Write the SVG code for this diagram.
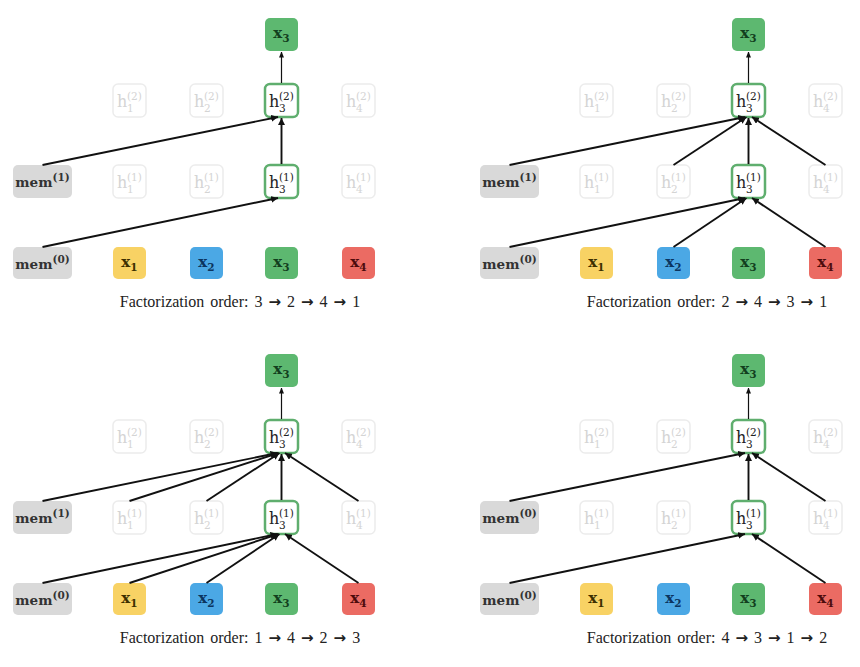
<svg xmlns="http://www.w3.org/2000/svg" width="860" height="667" viewBox="0 0 860 667">
<defs>
<marker id="ah" markerUnits="userSpaceOnUse" markerWidth="8" markerHeight="7" refX="7" refY="3.5" orient="auto"><path d="M0,0 L7,3.5 L0,7 z" fill="#111"/></marker>
<marker id="ahs" markerUnits="userSpaceOnUse" markerWidth="6" markerHeight="5" refX="5.5" refY="2.5" orient="auto"><path d="M0,0 L6,2.5 L0,5 z" fill="#111"/></marker>
</defs>
<style>
.fade{fill:#fff;stroke:#ececec;stroke-width:1.5}
.act{fill:#fff;stroke:#5fae6e;stroke-width:2.5}
.mem{fill:#d9d9d9}
.g{fill:#5db870}.y{fill:#f8d264}.b{fill:#4ba8e5}.r{fill:#eb6b63}
text{font-family:"DejaVu Serif","Liberation Serif",serif}
.ft{fill:#d4d4d4}
.at{fill:#222}
.hl{font-size:16px}
.sm{font-size:10.5px}
.ml{font-size:13.5px;font-weight:bold;fill:#333}
.xl{font-size:15px;font-weight:bold}
.tg{fill:#123f1e}.ty{fill:#3d3000}.tb{fill:#0b3560}.tr{fill:#4d0c0c}
.cap{font-family:"Liberation Serif","DejaVu Serif",serif;font-size:16px;fill:#222;word-spacing:2px}
.ar{font-family:"DejaVu Sans",sans-serif;font-weight:bold;font-size:15px}
.e{stroke:#111;stroke-width:1.9;fill:none;marker-end:url(#ah)}
.et{stroke:#111;stroke-width:1.2;fill:none;marker-end:url(#ahs)}
</style>
<rect width="860" height="667" fill="#fff"/>

<!-- ================= Panel A ================= -->
<g id="panelA">
<g id="A_out"><rect class="g" x="265" y="18" width="33" height="33" rx="5"/><text class="xl tg" x="281.5" y="38" text-anchor="middle">x<tspan class="sm" dy="4">3</tspan></text></g>
<g id="A_h1_2"><rect class="fade" x="113" y="84" width="33" height="33" rx="5"/><text class="hl ft" x="117" y="107">h</text><text class="sm ft" x="127" y="100">(2)</text><text class="sm ft" x="127" y="112">1</text></g>
<g id="A_h2_2"><rect class="fade" x="190" y="84" width="33" height="33" rx="5"/><text class="hl ft" x="194" y="107">h</text><text class="sm ft" x="204" y="100">(2)</text><text class="sm ft" x="204" y="112">2</text></g>
<g id="A_h3_2"><rect class="act" x="265" y="84" width="33" height="33" rx="5"/><text class="hl at" x="269" y="107">h</text><text class="sm at" x="279" y="100">(2)</text><text class="sm at" x="279" y="112">3</text></g>
<g id="A_h4_2"><rect class="fade" x="342" y="84" width="33" height="33" rx="5"/><text class="hl ft" x="346" y="107">h</text><text class="sm ft" x="356" y="100">(2)</text><text class="sm ft" x="356" y="112">4</text></g>
<g id="A_mem1"><rect class="mem" x="13" y="165" width="59" height="33" rx="5"/><text class="ml" x="42.5" y="187" text-anchor="middle">mem<tspan class="sm" dy="-6">(1)</tspan></text></g>
<g id="A_h1_1"><rect class="fade" x="113" y="165" width="33" height="33" rx="5"/><text class="hl ft" x="117" y="188">h</text><text class="sm ft" x="127" y="181">(1)</text><text class="sm ft" x="127" y="193">1</text></g>
<g id="A_h2_1"><rect class="fade" x="190" y="165" width="33" height="33" rx="5"/><text class="hl ft" x="194" y="188">h</text><text class="sm ft" x="204" y="181">(1)</text><text class="sm ft" x="204" y="193">2</text></g>
<g id="A_h3_1"><rect class="act" x="265" y="165" width="33" height="33" rx="5"/><text class="hl at" x="269" y="188">h</text><text class="sm at" x="279" y="181">(1)</text><text class="sm at" x="279" y="193">3</text></g>
<g id="A_h4_1"><rect class="fade" x="342" y="165" width="33" height="33" rx="5"/><text class="hl ft" x="346" y="188">h</text><text class="sm ft" x="356" y="181">(1)</text><text class="sm ft" x="356" y="193">4</text></g>
<g id="A_mem0"><rect class="mem" x="13" y="247" width="59" height="32" rx="5"/><text class="ml" x="42.5" y="269" text-anchor="middle">mem<tspan class="sm" dy="-6">(0)</tspan></text></g>
<g id="A_x1"><rect class="y" x="113" y="247" width="33" height="32" rx="5"/><text class="xl ty" x="129.5" y="267" text-anchor="middle">x<tspan class="sm" dy="4">1</tspan></text></g>
<g id="A_x2"><rect class="b" x="190" y="247" width="33" height="32" rx="5"/><text class="xl tb" x="206.5" y="267" text-anchor="middle">x<tspan class="sm" dy="4">2</tspan></text></g>
<g id="A_x3"><rect class="g" x="265" y="247" width="33" height="32" rx="5"/><text class="xl tg" x="281.5" y="267" text-anchor="middle">x<tspan class="sm" dy="4">3</tspan></text></g>
<g id="A_x4"><rect class="r" x="342" y="247" width="33" height="32" rx="5"/><text class="xl tr" x="358.5" y="267" text-anchor="middle">x<tspan class="sm" dy="4">4</tspan></text></g>
<text class="cap" x="240" y="307" text-anchor="middle">Factorization order: 3 <tspan class="ar">→</tspan> 2 <tspan class="ar">→</tspan> 4 <tspan class="ar">→</tspan> 1</text>
</g>

<!-- ================= Panel B ================= -->
<g id="panelB" transform="translate(467,0)">
<g id="B_out"><rect class="g" x="265" y="18" width="33" height="33" rx="5"/><text class="xl tg" x="281.5" y="38" text-anchor="middle">x<tspan class="sm" dy="4">3</tspan></text></g>
<g id="B_h1_2"><rect class="fade" x="113" y="84" width="33" height="33" rx="5"/><text class="hl ft" x="117" y="107">h</text><text class="sm ft" x="127" y="100">(2)</text><text class="sm ft" x="127" y="112">1</text></g>
<g id="B_h2_2"><rect class="fade" x="190" y="84" width="33" height="33" rx="5"/><text class="hl ft" x="194" y="107">h</text><text class="sm ft" x="204" y="100">(2)</text><text class="sm ft" x="204" y="112">2</text></g>
<g id="B_h3_2"><rect class="act" x="265" y="84" width="33" height="33" rx="5"/><text class="hl at" x="269" y="107">h</text><text class="sm at" x="279" y="100">(2)</text><text class="sm at" x="279" y="112">3</text></g>
<g id="B_h4_2"><rect class="fade" x="342" y="84" width="33" height="33" rx="5"/><text class="hl ft" x="346" y="107">h</text><text class="sm ft" x="356" y="100">(2)</text><text class="sm ft" x="356" y="112">4</text></g>
<g id="B_mem1"><rect class="mem" x="13" y="165" width="59" height="33" rx="5"/><text class="ml" x="42.5" y="187" text-anchor="middle">mem<tspan class="sm" dy="-6">(1)</tspan></text></g>
<g id="B_h1_1"><rect class="fade" x="113" y="165" width="33" height="33" rx="5"/><text class="hl ft" x="117" y="188">h</text><text class="sm ft" x="127" y="181">(1)</text><text class="sm ft" x="127" y="193">1</text></g>
<g id="B_h2_1"><rect class="fade" x="190" y="165" width="33" height="33" rx="5"/><text class="hl ft" x="194" y="188">h</text><text class="sm ft" x="204" y="181">(1)</text><text class="sm ft" x="204" y="193">2</text></g>
<g id="B_h3_1"><rect class="act" x="265" y="165" width="33" height="33" rx="5"/><text class="hl at" x="269" y="188">h</text><text class="sm at" x="279" y="181">(1)</text><text class="sm at" x="279" y="193">3</text></g>
<g id="B_h4_1"><rect class="fade" x="342" y="165" width="33" height="33" rx="5"/><text class="hl ft" x="346" y="188">h</text><text class="sm ft" x="356" y="181">(1)</text><text class="sm ft" x="356" y="193">4</text></g>
<g id="B_mem0"><rect class="mem" x="13" y="247" width="59" height="32" rx="5"/><text class="ml" x="42.5" y="269" text-anchor="middle">mem<tspan class="sm" dy="-6">(0)</tspan></text></g>
<g id="B_x1"><rect class="y" x="113" y="247" width="33" height="32" rx="5"/><text class="xl ty" x="129.5" y="267" text-anchor="middle">x<tspan class="sm" dy="4">1</tspan></text></g>
<g id="B_x2"><rect class="b" x="190" y="247" width="33" height="32" rx="5"/><text class="xl tb" x="206.5" y="267" text-anchor="middle">x<tspan class="sm" dy="4">2</tspan></text></g>
<g id="B_x3"><rect class="g" x="265" y="247" width="33" height="32" rx="5"/><text class="xl tg" x="281.5" y="267" text-anchor="middle">x<tspan class="sm" dy="4">3</tspan></text></g>
<g id="B_x4"><rect class="r" x="342" y="247" width="33" height="32" rx="5"/><text class="xl tr" x="358.5" y="267" text-anchor="middle">x<tspan class="sm" dy="4">4</tspan></text></g>
<text class="cap" x="240" y="307" text-anchor="middle">Factorization order: 2 <tspan class="ar">→</tspan> 4 <tspan class="ar">→</tspan> 3 <tspan class="ar">→</tspan> 1</text>
</g>

<!-- ================= Panel C ================= -->
<g id="panelC" transform="translate(0,336)">
<g id="C_out"><rect class="g" x="265" y="18" width="33" height="33" rx="5"/><text class="xl tg" x="281.5" y="38" text-anchor="middle">x<tspan class="sm" dy="4">3</tspan></text></g>
<g id="C_h1_2"><rect class="fade" x="113" y="84" width="33" height="33" rx="5"/><text class="hl ft" x="117" y="107">h</text><text class="sm ft" x="127" y="100">(2)</text><text class="sm ft" x="127" y="112">1</text></g>
<g id="C_h2_2"><rect class="fade" x="190" y="84" width="33" height="33" rx="5"/><text class="hl ft" x="194" y="107">h</text><text class="sm ft" x="204" y="100">(2)</text><text class="sm ft" x="204" y="112">2</text></g>
<g id="C_h3_2"><rect class="act" x="265" y="84" width="33" height="33" rx="5"/><text class="hl at" x="269" y="107">h</text><text class="sm at" x="279" y="100">(2)</text><text class="sm at" x="279" y="112">3</text></g>
<g id="C_h4_2"><rect class="fade" x="342" y="84" width="33" height="33" rx="5"/><text class="hl ft" x="346" y="107">h</text><text class="sm ft" x="356" y="100">(2)</text><text class="sm ft" x="356" y="112">4</text></g>
<g id="C_mem1"><rect class="mem" x="13" y="165" width="59" height="33" rx="5"/><text class="ml" x="42.5" y="187" text-anchor="middle">mem<tspan class="sm" dy="-6">(1)</tspan></text></g>
<g id="C_h1_1"><rect class="fade" x="113" y="165" width="33" height="33" rx="5"/><text class="hl ft" x="117" y="188">h</text><text class="sm ft" x="127" y="181">(1)</text><text class="sm ft" x="127" y="193">1</text></g>
<g id="C_h2_1"><rect class="fade" x="190" y="165" width="33" height="33" rx="5"/><text class="hl ft" x="194" y="188">h</text><text class="sm ft" x="204" y="181">(1)</text><text class="sm ft" x="204" y="193">2</text></g>
<g id="C_h3_1"><rect class="act" x="265" y="165" width="33" height="33" rx="5"/><text class="hl at" x="269" y="188">h</text><text class="sm at" x="279" y="181">(1)</text><text class="sm at" x="279" y="193">3</text></g>
<g id="C_h4_1"><rect class="fade" x="342" y="165" width="33" height="33" rx="5"/><text class="hl ft" x="346" y="188">h</text><text class="sm ft" x="356" y="181">(1)</text><text class="sm ft" x="356" y="193">4</text></g>
<g id="C_mem0"><rect class="mem" x="13" y="247" width="59" height="32" rx="5"/><text class="ml" x="42.5" y="269" text-anchor="middle">mem<tspan class="sm" dy="-6">(0)</tspan></text></g>
<g id="C_x1"><rect class="y" x="113" y="247" width="33" height="32" rx="5"/><text class="xl ty" x="129.5" y="267" text-anchor="middle">x<tspan class="sm" dy="4">1</tspan></text></g>
<g id="C_x2"><rect class="b" x="190" y="247" width="33" height="32" rx="5"/><text class="xl tb" x="206.5" y="267" text-anchor="middle">x<tspan class="sm" dy="4">2</tspan></text></g>
<g id="C_x3"><rect class="g" x="265" y="247" width="33" height="32" rx="5"/><text class="xl tg" x="281.5" y="267" text-anchor="middle">x<tspan class="sm" dy="4">3</tspan></text></g>
<g id="C_x4"><rect class="r" x="342" y="247" width="33" height="32" rx="5"/><text class="xl tr" x="358.5" y="267" text-anchor="middle">x<tspan class="sm" dy="4">4</tspan></text></g>
<text class="cap" x="240" y="307" text-anchor="middle">Factorization order: 1 <tspan class="ar">→</tspan> 4 <tspan class="ar">→</tspan> 2 <tspan class="ar">→</tspan> 3</text>
</g>

<!-- ================= Panel D ================= -->
<g id="panelD" transform="translate(467,336)">
<g id="D_out"><rect class="g" x="265" y="18" width="33" height="33" rx="5"/><text class="xl tg" x="281.5" y="38" text-anchor="middle">x<tspan class="sm" dy="4">3</tspan></text></g>
<g id="D_h1_2"><rect class="fade" x="113" y="84" width="33" height="33" rx="5"/><text class="hl ft" x="117" y="107">h</text><text class="sm ft" x="127" y="100">(2)</text><text class="sm ft" x="127" y="112">1</text></g>
<g id="D_h2_2"><rect class="fade" x="190" y="84" width="33" height="33" rx="5"/><text class="hl ft" x="194" y="107">h</text><text class="sm ft" x="204" y="100">(2)</text><text class="sm ft" x="204" y="112">2</text></g>
<g id="D_h3_2"><rect class="act" x="265" y="84" width="33" height="33" rx="5"/><text class="hl at" x="269" y="107">h</text><text class="sm at" x="279" y="100">(2)</text><text class="sm at" x="279" y="112">3</text></g>
<g id="D_h4_2"><rect class="fade" x="342" y="84" width="33" height="33" rx="5"/><text class="hl ft" x="346" y="107">h</text><text class="sm ft" x="356" y="100">(2)</text><text class="sm ft" x="356" y="112">4</text></g>
<g id="D_mem1"><rect class="mem" x="13" y="165" width="59" height="33" rx="5"/><text class="ml" x="42.5" y="187" text-anchor="middle">mem<tspan class="sm" dy="-6">(0)</tspan></text></g>
<g id="D_h1_1"><rect class="fade" x="113" y="165" width="33" height="33" rx="5"/><text class="hl ft" x="117" y="188">h</text><text class="sm ft" x="127" y="181">(1)</text><text class="sm ft" x="127" y="193">1</text></g>
<g id="D_h2_1"><rect class="fade" x="190" y="165" width="33" height="33" rx="5"/><text class="hl ft" x="194" y="188">h</text><text class="sm ft" x="204" y="181">(1)</text><text class="sm ft" x="204" y="193">2</text></g>
<g id="D_h3_1"><rect class="act" x="265" y="165" width="33" height="33" rx="5"/><text class="hl at" x="269" y="188">h</text><text class="sm at" x="279" y="181">(1)</text><text class="sm at" x="279" y="193">3</text></g>
<g id="D_h4_1"><rect class="fade" x="342" y="165" width="33" height="33" rx="5"/><text class="hl ft" x="346" y="188">h</text><text class="sm ft" x="356" y="181">(1)</text><text class="sm ft" x="356" y="193">4</text></g>
<g id="D_mem0"><rect class="mem" x="13" y="247" width="59" height="32" rx="5"/><text class="ml" x="42.5" y="269" text-anchor="middle">mem<tspan class="sm" dy="-6">(0)</tspan></text></g>
<g id="D_x1"><rect class="y" x="113" y="247" width="33" height="32" rx="5"/><text class="xl ty" x="129.5" y="267" text-anchor="middle">x<tspan class="sm" dy="4">1</tspan></text></g>
<g id="D_x2"><rect class="b" x="190" y="247" width="33" height="32" rx="5"/><text class="xl tb" x="206.5" y="267" text-anchor="middle">x<tspan class="sm" dy="4">2</tspan></text></g>
<g id="D_x3"><rect class="g" x="265" y="247" width="33" height="32" rx="5"/><text class="xl tg" x="281.5" y="267" text-anchor="middle">x<tspan class="sm" dy="4">3</tspan></text></g>
<g id="D_x4"><rect class="r" x="342" y="247" width="33" height="32" rx="5"/><text class="xl tr" x="358.5" y="267" text-anchor="middle">x<tspan class="sm" dy="4">4</tspan></text></g>
<text class="cap" x="240" y="307" text-anchor="middle">Factorization order: 4 <tspan class="ar">→</tspan> 3 <tspan class="ar">→</tspan> 1 <tspan class="ar">→</tspan> 2</text>
</g>

<!-- ================= Connectors ================= -->
<g id="connectors">
<g transform="translate(0,0)">
<line class="et" x1="281.5" y1="83" x2="281.5" y2="52"/>
<line class="e" x1="281.5" y1="164" x2="281.5" y2="118"/>
<line class="e" x1="42.5" y1="165" x2="278" y2="117"/>
<line class="e" x1="42.5" y1="247" x2="278" y2="198"/>
</g>
<g transform="translate(467,0)">
<line class="et" x1="281.5" y1="83" x2="281.5" y2="52"/>
<line class="e" x1="281.5" y1="164" x2="281.5" y2="118"/>
<line class="e" x1="42.5" y1="165" x2="278" y2="117"/>
<line class="e" x1="206.5" y1="165" x2="279.5" y2="117"/>
<line class="e" x1="358.5" y1="165" x2="285" y2="117"/>
<line class="e" x1="42.5" y1="247" x2="278" y2="198"/>
<line class="e" x1="206.5" y1="247" x2="279.5" y2="198"/>
<line class="e" x1="358.5" y1="247" x2="285" y2="198"/>
</g>
<g transform="translate(0,336)">
<line class="et" x1="281.5" y1="83" x2="281.5" y2="52"/>
<line class="e" x1="281.5" y1="164" x2="281.5" y2="118"/>
<line class="e" x1="42.5" y1="165" x2="277.5" y2="117"/>
<line class="e" x1="129.5" y1="165" x2="278.5" y2="117"/>
<line class="e" x1="206.5" y1="165" x2="279.5" y2="117"/>
<line class="e" x1="358.5" y1="165" x2="285" y2="117"/>
<line class="e" x1="42.5" y1="247" x2="277.5" y2="198"/>
<line class="e" x1="129.5" y1="247" x2="278.5" y2="198"/>
<line class="e" x1="206.5" y1="247" x2="279.5" y2="198"/>
<line class="e" x1="358.5" y1="247" x2="285" y2="198"/>
</g>
<g transform="translate(467,336)">
<line class="et" x1="281.5" y1="83" x2="281.5" y2="52"/>
<line class="e" x1="281.5" y1="164" x2="281.5" y2="118"/>
<line class="e" x1="42.5" y1="165" x2="278" y2="117"/>
<line class="e" x1="358.5" y1="165" x2="285" y2="117"/>
<line class="e" x1="42.5" y1="247" x2="278" y2="198"/>
<line class="e" x1="358.5" y1="247" x2="285" y2="198"/>
</g>
</g>
</svg>
